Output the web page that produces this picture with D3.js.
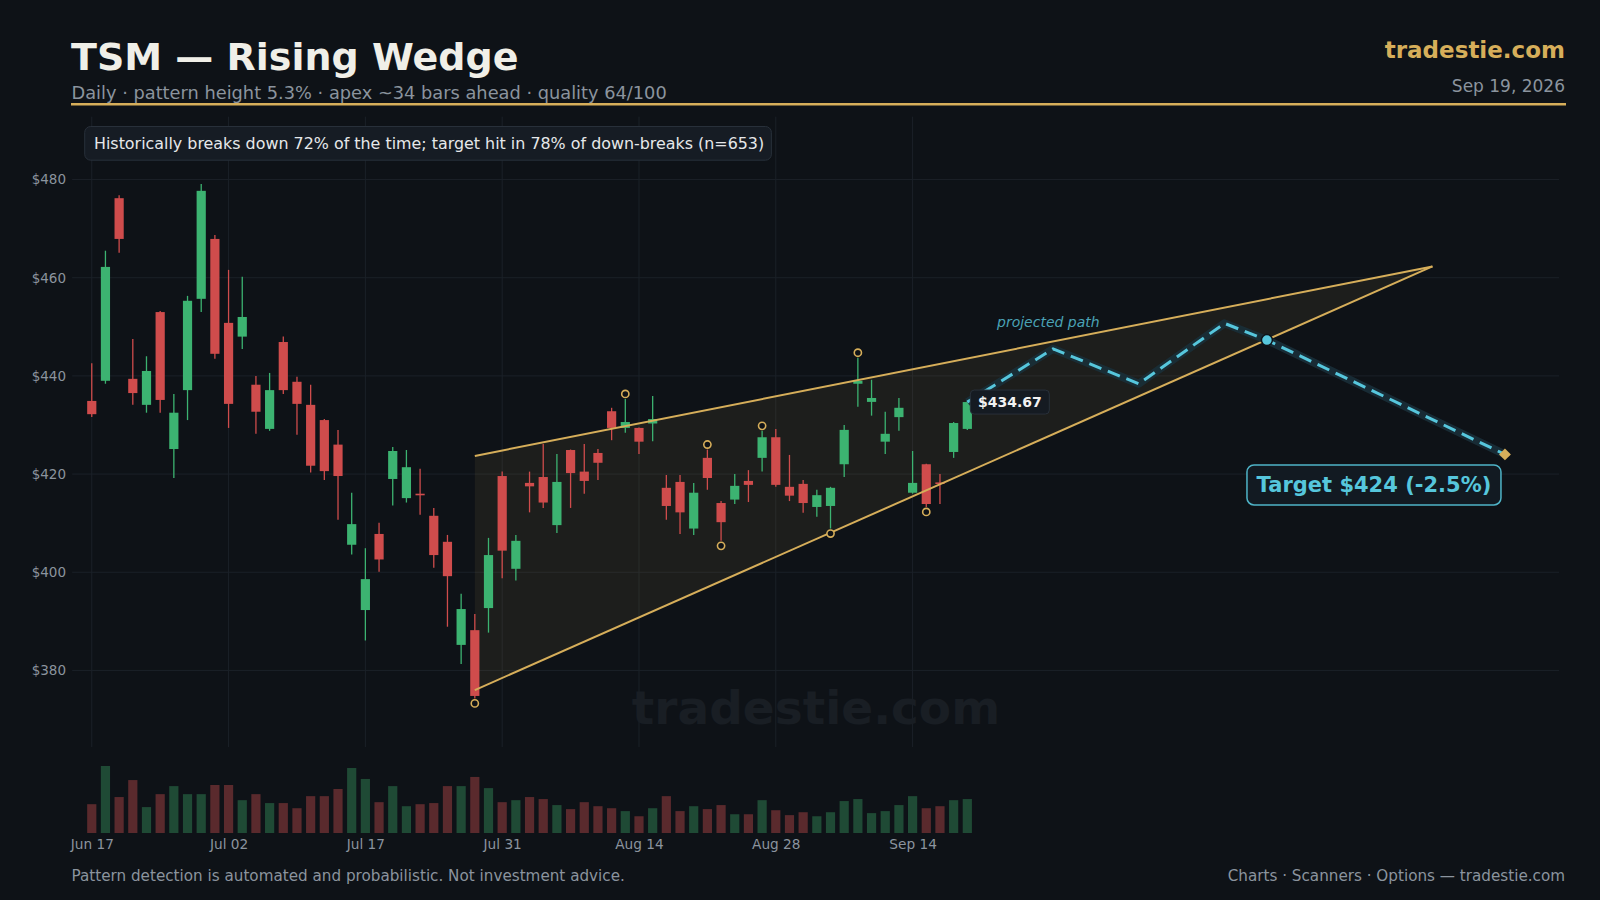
<!DOCTYPE html>
<html><head><meta charset="utf-8">
<script src="https://cdn.jsdelivr.net/npm/d3@7"></script>
<style>
body{margin:0;background:#0e1217;}
svg{display:block;font-family:"DejaVu Sans",sans-serif;}
</style>
</head><body>
<svg id="c" width="1600" height="900"></svg>
<script>
// ---------- data ----------
const tickIdx = [0, 10, 20, 30, 40, 50, 60];
const tickLabels = ["Jun 17", "Jul 02", "Jul 17", "Jul 31", "Aug 14", "Aug 28", "Sep 14"];
const priceTicks = [380, 400, 420, 440, 460, 480];

const opens = [434.9,439.0,476.2,439.4,434.1,453.0,425.1,437.1,455.7,467.9,450.8,448.0,438.2,429.2,446.9,438.8,
  434.1,431.0,426.0,405.6,392.3,407.8,419.0,415.1,416.0,411.5,406.2,385.2,388.2,392.7,419.6,400.7,418.2,
  419.4,409.6,424.9,420.5,424.3,432.8,429.4,429.4,430.3,417.2,418.4,408.9,423.3,414.1,414.8,418.6,423.3,
  427.5,417.4,418.0,413.3,413.5,422.0,438.4,434.7,426.6,431.6,416.2,422.0,418.3,424.5,429.2];
const highs = [442.6,465.5,476.8,447.5,444.0,453.2,436.3,456.3,479.1,468.7,461.6,460.2,440.0,440.6,448.0,439.8,
  438.2,431.2,429.0,416.2,404.9,410.1,425.5,424.9,421.1,413.1,407.6,395.6,391.5,407.0,420.5,407.6,420.5,
  426.1,424.1,425.0,426.1,425.1,433.5,435.3,429.5,435.9,419.8,419.8,418.2,425.0,414.5,420.0,420.8,428.8,
  429.2,423.9,418.8,416.8,417.4,430.0,443.7,439.2,432.7,435.5,424.7,422.1,420.0,430.6,435.0];
const lows = [431.6,438.4,465.1,434.1,432.5,432.5,419.2,431.0,453.0,443.5,429.4,445.5,428.2,428.8,436.3,428.0,
  420.3,418.8,410.7,403.6,386.1,400.1,413.6,414.2,411.7,400.9,388.9,381.3,374.3,387.7,398.8,398.3,412.2,
  413.1,408.0,413.1,416.0,418.8,426.9,428.4,424.1,426.7,410.7,407.8,407.6,416.8,406.4,413.9,414.3,420.5,
  417.4,414.5,412.1,411.3,408.9,419.4,433.7,431.9,424.1,428.8,416.0,413.3,413.9,423.3,429.0];
const closes = [432.2,462.2,467.9,436.5,441.0,435.1,432.5,455.3,477.7,444.5,434.3,452.0,432.7,437.1,437.1,434.3,
  421.7,420.6,419.6,409.8,398.6,402.6,424.7,421.4,415.8,403.5,399.2,392.5,374.8,403.5,404.4,406.4,417.5,
  414.2,418.4,420.2,418.6,422.3,429.4,430.6,426.6,431.2,413.5,412.2,416.2,419.2,410.2,417.6,417.8,427.5,
  417.8,415.6,414.1,415.7,417.2,429.0,439.0,435.5,428.2,433.5,418.2,413.9,418.1,430.4,434.67];
const volumes = [12.9,30.0,16.1,23.7,11.6,17.4,21.0,17.4,17.4,21.5,21.5,14.7,17.4,13.4,13.4,11.1,
  16.5,16.5,19.7,29.1,24.2,13.8,21.0,12.0,12.9,13.4,21.0,21.0,25.1,20.1,13.8,14.7,16.1,
  15.2,12.5,10.7,13.8,12.0,11.1,9.8,7.5,11.1,16.5,9.8,12.0,10.7,12.5,8.4,8.4,14.7,
  10.2,8.0,9.3,7.5,9.3,14.3,15.2,8.9,9.8,12.5,16.5,11.1,12.0,14.7,15.2];

const wedgeUpperIdx = [28, 98];
const wedgeUpperVal = [423.7, 462.3];
const wedgeLowerIdx = [28, 98];
const wedgeLowerVal = [376.0, 462.3];

const pivotHighIdx = [39, 45, 49, 56];
const pivotLowIdx = [28, 46, 54, 61];

const projIdx = [64, 70.27, 76.53, 82.8, 85.9, 103.3];
const projVal = [434.67, 445.5, 438.4, 450.7, 447.3, 424.0];
const breakIdx = 85.9, breakVal = 447.3;
const targetIdx = 103.3, targetVal = 424.0;

const lastClose = 434.67;

// ---------- drawing ----------
const svg = d3.select("#c");
const W = 1600, H = 900;
const BG = "#0e1217", GRID = "#1b2128", MUTED = "#8b949e", GOLD = "#d6ae5a", CYAN = "#56c6dc";
const UP = "#3cb371", DOWN = "#cf4c4c", VUP = "#1f4a35", VDOWN = "#5a2a2d";

svg.append("rect").attr("width", W).attr("height", H).attr("fill", BG);

const plotL = 72.2, plotR = 1559, plotT = 116.7, plotB = 747;
const x = d3.scaleLinear().domain([-1.43, 107.25]).range([plotL, plotR]);
const y = d3.scaleLinear().domain([364.4, 492.8]).range([plotB, plotT]);
const yv = d3.scaleLinear().domain([0, 30]).range([833, 766]);

// header
svg.append("text").attr("x", 71).attr("y", 70).attr("fill", "#f0efe8")
  .attr("font-size", 38).attr("font-weight", "bold").text("TSM — Rising Wedge");
svg.append("text").attr("x", 71.5).attr("y", 99).attr("fill", MUTED)
  .attr("font-size", 17.8).text("Daily · pattern height 5.3% · apex ~34 bars ahead · quality 64/100");
svg.append("text").attr("x", 1565).attr("y", 58).attr("fill", GOLD).attr("text-anchor", "end")
  .attr("font-size", 23).attr("font-weight", "bold").text("tradestie.com");
svg.append("text").attr("x", 1565).attr("y", 92).attr("fill", MUTED).attr("text-anchor", "end")
  .attr("font-size", 17).text("Sep 19, 2026");
svg.append("line").attr("x1", 71).attr("x2", 1566).attr("y1", 104.3).attr("y2", 104.3)
  .attr("stroke", GOLD).attr("stroke-width", 2.6);

// grid
const g = svg.append("g");
g.selectAll(".hg").data(priceTicks).join("line")
  .attr("x1", plotL).attr("x2", plotR).attr("y1", d => y(d)).attr("y2", d => y(d))
  .attr("stroke", GRID).attr("stroke-width", 1);
g.selectAll(".vg").data(tickIdx).join("line")
  .attr("x1", d => x(d)).attr("x2", d => x(d)).attr("y1", plotT).attr("y2", plotB)
  .attr("stroke", GRID).attr("stroke-width", 1);

// watermark
svg.append("text").attr("x", 816).attr("y", 724).attr("text-anchor", "middle")
  .attr("fill", "#191e24").attr("font-size", 47).attr("font-weight", "bold").text("tradestie.com");

// y axis
const yAxis = d3.axisLeft(y).tickValues(priceTicks).tickFormat(d => "$" + d).tickSize(0).tickPadding(0);
const ya = svg.append("g").attr("transform", "translate(66,0)").call(yAxis);
ya.select(".domain").remove();
ya.selectAll("text").attr("fill", MUTED).attr("font-size", 13.5).attr("font-family", "DejaVu Sans");

// x axis
const xAxis = d3.axisBottom(x).tickValues(tickIdx).tickFormat((d, i) => tickLabels[i]).tickSize(0).tickPadding(0);
const xa = svg.append("g").attr("transform", "translate(0,839.5)").call(xAxis);
xa.select(".domain").remove();
xa.selectAll("text").attr("fill", MUTED).attr("font-size", 13.7).attr("font-family", "DejaVu Sans");

// wedge fill
const wedgePoly = [
  [x(wedgeUpperIdx[0]), y(wedgeUpperVal[0])],
  [x(wedgeUpperIdx[1]), y(wedgeUpperVal[1])],
  [x(wedgeLowerIdx[0]), y(wedgeLowerVal[0])]
];
svg.append("path").attr("d", d3.line()(wedgePoly) + "Z").attr("fill", GOLD).attr("fill-opacity", 0.08);

const idxs = d3.range(opens.length);

// volume
svg.selectAll(".vol").data(idxs).join("rect")
  .attr("x", i => x(i) - 4.6).attr("width", 9.2)
  .attr("y", i => yv(volumes[i])).attr("height", i => yv(0) - yv(volumes[i]))
  .attr("fill", i => closes[i] >= opens[i] ? VUP : VDOWN);

// candles
const cg = svg.append("g");
cg.selectAll(".wick").data(idxs).join("line")
  .attr("x1", i => x(i)).attr("x2", i => x(i))
  .attr("y1", i => y(highs[i])).attr("y2", i => y(lows[i]))
  .attr("stroke", i => closes[i] >= opens[i] ? UP : DOWN).attr("stroke-width", 1.3);
cg.selectAll(".body").data(idxs).join("rect")
  .attr("x", i => x(i) - 4.6).attr("width", 9.2)
  .attr("y", i => y(Math.max(opens[i], closes[i])))
  .attr("height", i => Math.max(1.6, Math.abs(y(opens[i]) - y(closes[i]))))
  .attr("fill", i => closes[i] >= opens[i] ? UP : DOWN);

// wedge lines
svg.append("line").attr("x1", x(wedgeUpperIdx[0])).attr("y1", y(wedgeUpperVal[0]))
  .attr("x2", x(wedgeUpperIdx[1])).attr("y2", y(wedgeUpperVal[1]))
  .attr("stroke", GOLD).attr("stroke-width", 2);
svg.append("line").attr("x1", x(wedgeLowerIdx[0])).attr("y1", y(wedgeLowerVal[0]))
  .attr("x2", x(wedgeLowerIdx[1])).attr("y2", y(wedgeLowerVal[1]))
  .attr("stroke", GOLD).attr("stroke-width", 2);

// pivots
svg.selectAll(".ph").data(pivotHighIdx).join("circle")
  .attr("cx", i => x(i)).attr("cy", i => y(highs[i]) - 5).attr("r", 3.6)
  .attr("fill", BG).attr("stroke", GOLD).attr("stroke-width", 1.6);
svg.selectAll(".pl").data(pivotLowIdx).join("circle")
  .attr("cx", i => x(i)).attr("cy", i => y(lows[i]) + 5).attr("r", 3.6)
  .attr("fill", BG).attr("stroke", GOLD).attr("stroke-width", 1.6);

// projected path
const projPts = projIdx.map((d, i) => [x(d), y(projVal[i])]);
const line = d3.line();
svg.append("path").attr("d", line(projPts)).attr("fill", "none")
  .attr("stroke", "#1a2f38").attr("stroke-width", 8).attr("stroke-opacity", 0.9)
  .attr("stroke-linejoin", "round");
svg.append("path").attr("d", line(projPts)).attr("fill", "none")
  .attr("stroke", CYAN).attr("stroke-width", 3).attr("stroke-dasharray", "13,7");

svg.append("text").attr("x", 997).attr("y", 327).attr("fill", "#4aa3b6")
  .attr("font-size", 14).attr("font-style", "italic").text("projected path");

// breakdown point
svg.append("circle").attr("cx", x(breakIdx)).attr("cy", y(breakVal)).attr("r", 5.5)
  .attr("fill", CYAN).attr("stroke", BG).attr("stroke-width", 1.5);
// target diamond
svg.append("path").attr("d", d3.symbol(d3.symbolDiamond2 || d3.symbolSquare2, 90)())
  .attr("transform", `translate(${x(targetIdx)},${y(targetVal)}) rotate(${d3.symbolDiamond2 ? 0 : 45})`)
  .attr("fill", GOLD);

// last price label
const lx = x(64) + 3, ly = y(lastClose);
svg.append("rect").attr("x", lx).attr("y", ly - 12).attr("width", 79).attr("height", 24).attr("rx", 4)
  .attr("fill", "#151b22").attr("stroke", "#28303a").attr("stroke-width", 1);
svg.append("text").attr("x", lx + 39.5).attr("y", ly + 5).attr("text-anchor", "middle")
  .attr("fill", "#f2f2f2").attr("font-size", 14).attr("font-weight", "bold").text("$" + lastClose.toFixed(2));

// target label
const tx = x(targetIdx), ty = y(targetVal);
svg.append("rect").attr("x", tx - 258).attr("y", ty + 10.5).attr("width", 254).attr("height", 40).attr("rx", 7)
  .attr("fill", "#121a22").attr("stroke", "#4fb4c8").attr("stroke-width", 1.5);
svg.append("text").attr("x", tx - 131).attr("y", ty + 38).attr("text-anchor", "middle")
  .attr("fill", CYAN).attr("font-size", 21).attr("font-weight", "bold")
  .text(`Target $${targetVal.toFixed(0)} (-2.5%)`);

// info box
svg.append("rect").attr("x", 84.7).attr("y", 126.5).attr("width", 686.7).attr("height", 33.7).attr("rx", 6)
  .attr("fill", "#161c24").attr("stroke", "#28303a").attr("stroke-width", 1);
svg.append("text").attr("x", 94).attr("y", 148.7).attr("fill", "#e6e8ea").attr("font-size", 15.9)
  .text("Historically breaks down 72% of the time; target hit in 78% of down-breaks (n=653)");

// footer
svg.append("text").attr("x", 71.5).attr("y", 880.5).attr("fill", MUTED).attr("font-size", 15.2)
  .text("Pattern detection is automated and probabilistic. Not investment advice.");
svg.append("text").attr("x", 1565).attr("y", 880.5).attr("fill", MUTED).attr("font-size", 15.2).attr("text-anchor", "end")
  .text("Charts · Scanners · Options — tradestie.com");
</script>
</body></html>
